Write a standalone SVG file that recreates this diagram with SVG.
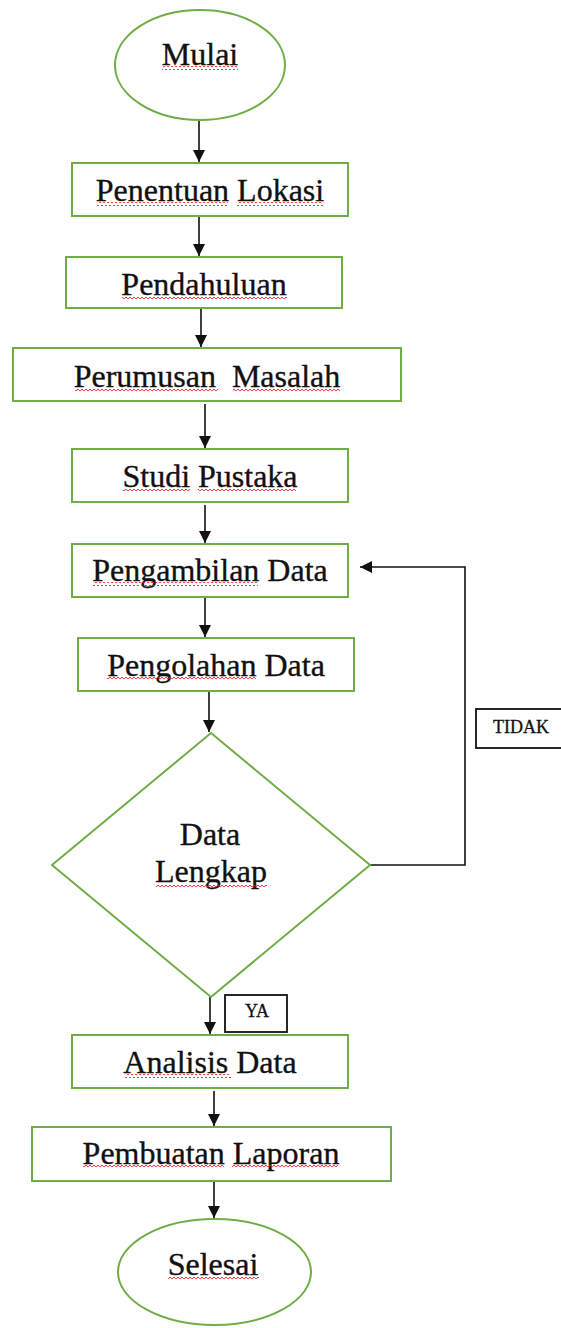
<svg xmlns="http://www.w3.org/2000/svg" width="561" height="1328" viewBox="0 0 561 1328">
<style>
.node{fill:#ffffff;stroke:#70AD47;stroke-width:2}
.lbl{font-family:"Liberation Serif","Times New Roman",serif;font-size:32px;fill:#111;stroke:#111;stroke-width:0.35;text-anchor:middle}
.small{font-family:"Liberation Serif","Times New Roman",serif;font-size:18px;fill:#111;stroke:#111;stroke-width:0.3;text-anchor:middle}
.tag{fill:#fff;stroke:#111;stroke-width:1.8}
.conn{fill:none;stroke:#111;stroke-width:1.6}
.sq{fill:url(#squig)}
</style>
<defs>
<marker id="arr" markerUnits="userSpaceOnUse" markerWidth="14" markerHeight="14" refX="12" refY="6" orient="auto">
<path d="M0,0 L12,6 L0,12 Z" fill="#111"/>
</marker>
<pattern id="squig" patternUnits="userSpaceOnUse" width="4" height="4">
<polyline points="0,3.2 2,1 4,3.2" fill="none" stroke="#e02020" stroke-width="0.9"/>
</pattern>
</defs>
<g id="connectors">
<line class="conn" x1="199" y1="121" x2="199" y2="162" marker-end="url(#arr)"/>
<line class="conn" x1="199" y1="216" x2="199" y2="256" marker-end="url(#arr)"/>
<line class="conn" x1="201" y1="309" x2="201" y2="347" marker-end="url(#arr)"/>
<line class="conn" x1="205" y1="404" x2="205" y2="448" marker-end="url(#arr)"/>
<line class="conn" x1="205" y1="505" x2="205" y2="543" marker-end="url(#arr)"/>
<line class="conn" x1="205" y1="597" x2="205" y2="637" marker-end="url(#arr)"/>
<line class="conn" x1="209" y1="692" x2="209" y2="732" marker-end="url(#arr)"/>
<line class="conn" x1="210" y1="997" x2="210" y2="1034" marker-end="url(#arr)"/>
<line class="conn" x1="214" y1="1091" x2="214" y2="1126" marker-end="url(#arr)"/>
<line class="conn" x1="214" y1="1182" x2="214" y2="1218" marker-end="url(#arr)"/>
<polyline class="conn" points="370,865 465,865 465,567 360,567" marker-end="url(#arr)"/>
</g>
<g id="mulai">
<ellipse class="node" cx="200" cy="65" rx="85" ry="55"/>
<text class="lbl" x="200" y="65">Mulai</text>
<rect class="sq" x="162" y="66" width="76" height="4"/>
</g>
<g id="penentuan-lokasi">
<rect class="node" x="72" y="163" width="276" height="53"/>
<text class="lbl" x="210" y="201">Penentuan Lokasi</text>
<rect class="sq" x="97" y="202" width="131" height="4"/>
<rect class="sq" x="237" y="202" width="86" height="4"/>
</g>
<g id="pendahuluan">
<rect class="node" x="66" y="257" width="276" height="51"/>
<text class="lbl" x="204" y="295">Pendahuluan</text>
<rect class="sq" x="122" y="296" width="165" height="4"/>
</g>
<g id="perumusan-masalah">
<rect class="node" x="13" y="348" width="388" height="53"/>
<text class="lbl" x="207" y="387" xml:space="preserve">Perumusan  Masalah</text>
<rect class="sq" x="75" y="388" width="143" height="4"/>
<rect class="sq" x="233" y="388" width="107" height="4"/>
</g>
<g id="studi-pustaka">
<rect class="node" x="72" y="449" width="276" height="53"/>
<text class="lbl" x="210" y="487">Studi Pustaka</text>
<rect class="sq" x="123" y="488" width="67" height="4"/>
<rect class="sq" x="198" y="488" width="98" height="4"/>
</g>
<g id="pengambilan-data">
<rect class="node" x="72" y="544" width="276" height="53"/>
<text class="lbl" x="210" y="581">Pengambilan Data</text>
<rect class="sq" x="93" y="582" width="165" height="4"/>
</g>
<g id="pengolahan-data">
<rect class="node" x="78" y="638" width="276" height="53"/>
<text class="lbl" x="216" y="676">Pengolahan Data</text>
<rect class="sq" x="107" y="677" width="149" height="4"/>
</g>
<g id="data-lengkap">
<polygon class="node" points="211,733 370,865 211,997 52,865"/>
<text class="lbl" x="210" y="845">Data</text>
<text class="lbl" x="211" y="882">Lengkap</text>
<rect class="sq" x="156" y="883" width="111" height="4"/>
</g>
<g id="label-tidak">
<rect class="tag" x="476" y="709" width="95" height="39"/>
<text class="small" x="521" y="733" font-size="19">TIDAK</text>
</g>
<g id="label-ya">
<rect class="tag" x="225" y="995" width="62" height="37"/>
<text class="small" x="257" y="1017">YA</text>
</g>
<g id="analisis-data">
<rect class="node" x="72" y="1035" width="276" height="53"/>
<text class="lbl" x="210" y="1073">Analisis Data</text>
<rect class="sq" x="125" y="1074" width="106" height="4"/>
</g>
<g id="pembuatan-laporan">
<rect class="node" x="32" y="1127" width="359" height="54"/>
<text class="lbl" x="211" y="1164">Pembuatan Laporan</text>
<rect class="sq" x="83" y="1165" width="141" height="4"/>
<rect class="sq" x="232" y="1165" width="106" height="4"/>
</g>
<g id="selesai">
<ellipse class="node" cx="214.5" cy="1272" rx="96.5" ry="53"/>
<text class="lbl" x="213" y="1275">Selesai</text>
<rect class="sq" x="168" y="1276" width="91" height="4"/>
</g>
</svg>
